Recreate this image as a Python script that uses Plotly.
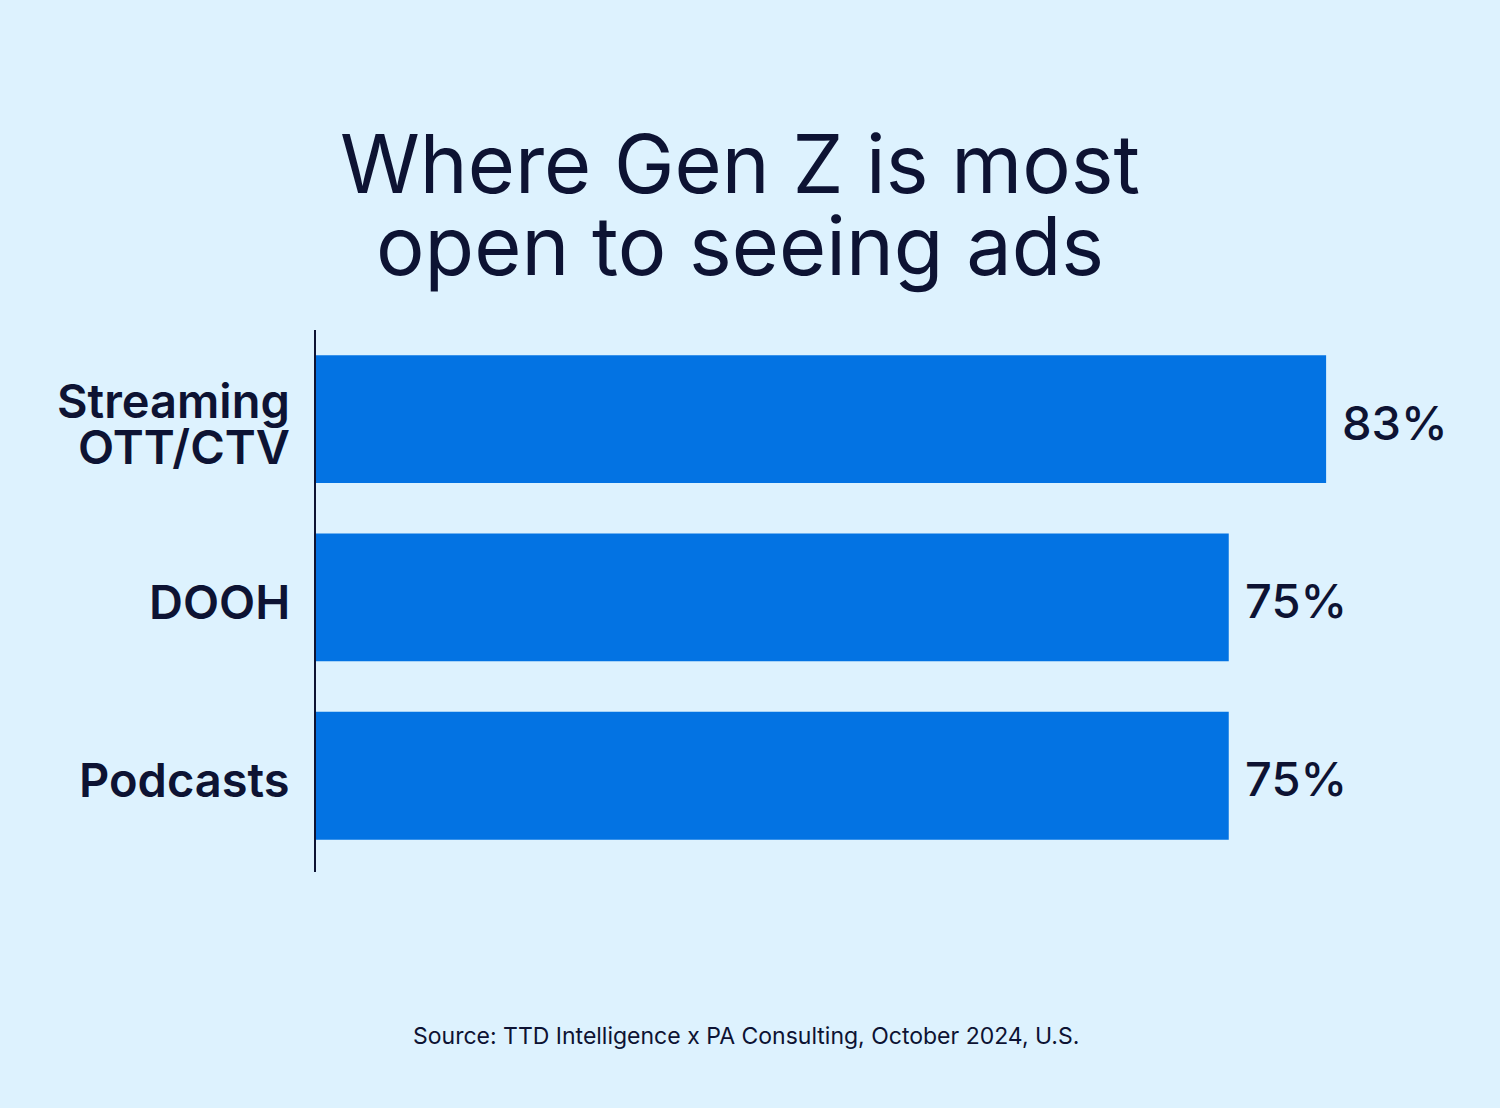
import plotly.graph_objects as go

categories = ["Streaming<br>OTT/CTV", "DOOH", "Podcasts"]
label_lines = [["Streaming", "OTT/CTV"], ["DOOH"], ["Podcasts"]]
values = [83, 75, 75]
value_labels = ["83%", "75%", "75%"]

title_lines = ["Where Gen Z is most", "open to seeing ads"]
source_text = "Source: TTD Intelligence x PA Consulting, October 2024, U.S."

BG = "#DDF2FE"
BAR = "#0373E3"
INK = "#0D1333"

W, H = 1500, 1108
ML, MR, MT, MB = 316, 0, 330, 236
PW, PH = W - ML - MR, H - MT - MB


def px_x(px):
    return (px - ML) / PW


def px_y(py):
    return (H - MB - py) / PH


fig = go.Figure()
fig.add_trace(go.Bar(
    x=values, y=categories, orientation="h",
    marker=dict(color=BAR, line=dict(width=0)),
    width=0.717, hoverinfo="skip",
))

annotations = []
for cat, lines in zip(categories, label_lines):
    n = len(lines)
    for i, ln in enumerate(lines):
        off = (i - (n - 1) / 2) * 46
        annotations.append(dict(
            x=0, xref="paper", y=cat, yref="y", text=ln, showarrow=False,
            xanchor="right", yanchor="middle", xshift=-24, yshift=-off - 4,
            font=dict(family="Inter", size=47, color=INK, weight=600),
        ))
for cat, v, t in zip(categories, values, value_labels):
    annotations.append(dict(
        x=v, xref="x", y=cat, yref="y", text=t, showarrow=False,
        xanchor="left", yanchor="middle", xshift=14, yshift=-3,
        font=dict(family="Inter", size=47, color=INK, weight=500),
    ))
for i, ln in enumerate(title_lines):
    annotations.append(dict(
        x=px_x(740), xref="paper", y=px_y(164 + i * 82), yref="paper",
        text=ln, showarrow=False, xanchor="center", yanchor="middle",
        font=dict(family="Inter", size=81, color=INK, weight=400),
    ))
annotations.append(dict(
    x=px_x(746), xref="paper", y=px_y(1036), yref="paper",
    text=source_text, showarrow=False, xanchor="center", yanchor="middle",
    font=dict(family="Inter", size=23, color=INK),
))

fig.update_layout(
    width=W, height=H,
    paper_bgcolor=BG, plot_bgcolor=BG,
    margin=dict(l=ML, r=MR, t=MT, b=MB, autoexpand=False),
    showlegend=False,
    xaxis=dict(range=[0, PW / 12.17], visible=False, fixedrange=True),
    yaxis=dict(range=[2.54, -0.5], showticklabels=False, ticks="",
               showline=True, linecolor=INK, linewidth=1.5, showgrid=False,
               zeroline=False, fixedrange=True),
    annotations=annotations,
)

fig.write_html(
    "out.html",
    config={"displayModeBar": False},
    post_script="document.body.style.margin='0';document.body.style.background='%s';" % BG,
)
